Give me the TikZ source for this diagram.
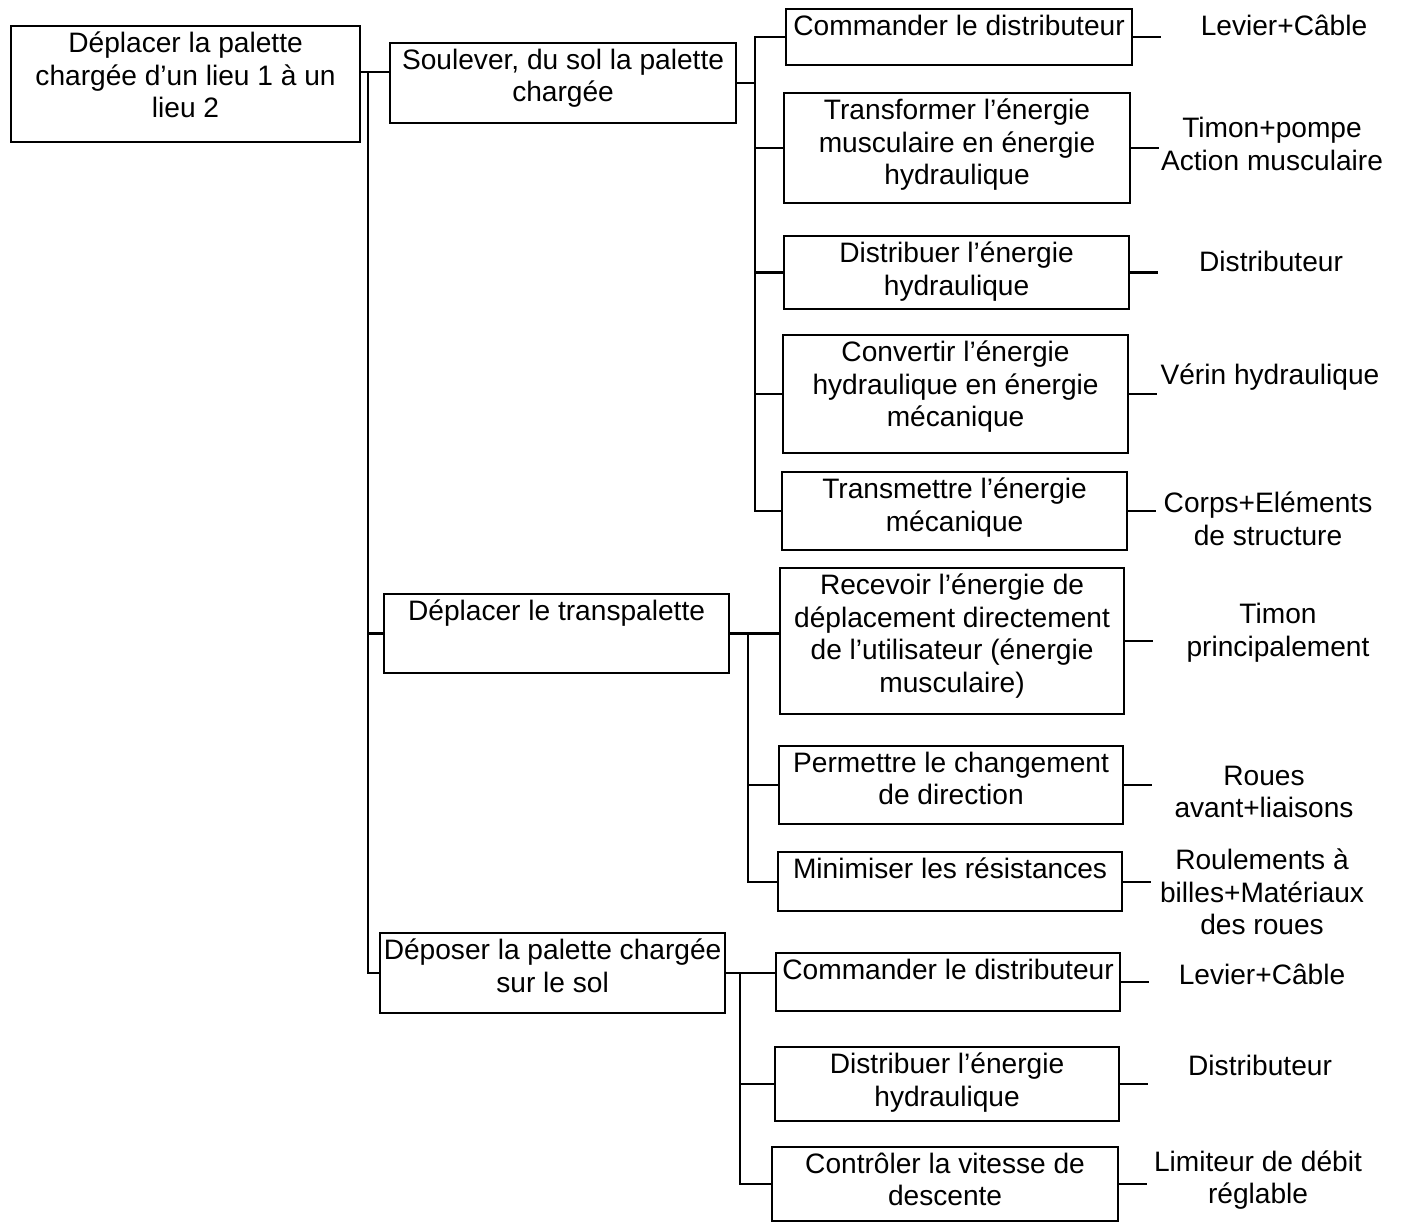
\documentclass[tikz,border=0pt]{standalone}
\usepackage{fontspec}
\setmainfont{Liberation Sans}
\tikzset{
  fastbox/.style={draw,line width=0.6pt,inner xsep=0pt,inner ysep=1.6pt,anchor=north west,font=\fontsize{8}{9.3}\selectfont},
  soltext/.style={align=center,inner sep=0pt,font=\fontsize{8}{9.3}\selectfont},
  link/.style={line width=0.6pt}
}
% box: name, north west corner, width, height, text (set from the top)
\newcommand*\fastfn[5]{\node [fastbox] (#1) at (#2) {\parbox[c][\dimexpr#4-3.2pt\relax][t]{#3}{\centering #5}};}
\newcommand*\fastsol[3]{\node [soltext] (#1) at (#2) {#3};}

\begin{document}
\begin{tikzpicture}
\useasboundingbox (0,0) rectangle (14.04,-12.22);

% main function and first level
\fastfn{root}{0.10,-0.25}{3.49cm}{1.16cm}{Déplacer la palette\\chargée d’un lieu 1 à un\\lieu 2}
\fastfn{s1}{3.89,-0.42}{3.46cm}{0.80cm}{Soulever, du sol la palette\\chargée}
\fastfn{s2}{3.83,-5.93}{3.45cm}{0.79cm}{Déplacer le transpalette}
\fastfn{s3}{3.79,-9.32}{3.45cm}{0.80cm}{Déposer la palette chargée\\sur le sol}

% soulever
\fastfn{c1}{7.85,-0.08}{3.46cm}{0.56cm}{Commander le distributeur}
\fastfn{c2}{7.83,-0.92}{3.46cm}{1.10cm}{Transformer l’énergie\\musculaire en énergie\\hydraulique}
\fastfn{c3}{7.83,-2.35}{3.45cm}{0.73cm}{Distribuer l’énergie\\hydraulique}
\fastfn{c4}{7.82,-3.34}{3.45cm}{1.18cm}{Convertir l’énergie\\hydraulique en énergie\\mécanique}
\fastfn{c5}{7.81,-4.71}{3.45cm}{0.78cm}{Transmettre l’énergie\\mécanique}

% deplacer
\fastfn{d1}{7.79,-5.67}{3.44cm}{1.46cm}{Recevoir l’énergie de\\déplacement directement\\de l’utilisateur (énergie\\musculaire)}
\fastfn{d2}{7.78,-7.45}{3.44cm}{0.78cm}{Permettre le changement\\de direction}
\fastfn{d3}{7.77,-8.51}{3.44cm}{0.59cm}{Minimiser les résistances}

% deposer
\fastfn{e1}{7.75,-9.52}{3.44cm}{0.58cm}{Commander le distributeur}
\fastfn{e2}{7.74,-10.46}{3.44cm}{0.74cm}{Distribuer l’énergie\\hydraulique}
\fastfn{e3}{7.71,-11.46}{3.46cm}{0.74cm}{Contrôler la vitesse de\\descente}

% solutions
\fastsol{l1}{12.84,-0.25}{Levier+Câble}
\fastsol{l2}{12.72,-1.44}{Timon+pompe\\Action musculaire}
\fastsol{l3}{12.71,-2.61}{Distributeur}
\fastsol{l4}{12.70,-3.77}{Vérin hydraulique}
\fastsol{l5}{12.68,-5.19}{Corps+Eléments\\de structure}
\fastsol{l6}{12.78,-6.33}{Timon\\principalement}
\fastsol{l7}{12.64,-7.92}{Roues\\avant+liaisons}
\fastsol{l8}{12.62,-8.92}{Roulements à\\billes+Matériaux\\des roues}
\fastsol{l9}{12.62,-9.74}{Levier+Câble}
\fastsol{l10}{12.60,-10.65}{Distributeur}
\fastsol{l11}{12.58,-11.80}{Limiteur de débit\\réglable}

% junctions
\coordinate (j0) at (3.68,-0.72);
\coordinate (j1) at (7.55,-0.88);
\coordinate (j2) at (7.48,-6.30);
\coordinate (j3) at (7.40,-9.73);

\draw[link] (root.east |- j0) -- (s1.west |- j0);
\draw[link] (j0) |- (s3.west);
\draw[link] (j0 |- s2.west) -- (s2.west);

\draw[link] (s1.east) -- (s1.east -| j1);
\draw[link] (c1.west) -| (j1) |- (c5.west);
\foreach \n in {c2,c3,c4} \draw[link] (\n.west -| j1) -- (\n.west);

\draw[link] (s2.east) -- (s2.east -| d1.west);
\draw[link] (s2.east -| j2) |- (d3.west);
\draw[link] (d2.west -| j2) -- (d2.west);

\draw[link] (s3.east) -- (s3.east -| e1.west);
\draw[link] (s3.east -| j3) |- (e3.west);
\draw[link] (e2.west -| j3) -- (e2.west);

\foreach \n in {c1,c2,c3,c4,c5,d1,d2,d3,e1,e2,e3} \draw[link] (\n.east) -- ++(0.28,0);

\end{tikzpicture}
\end{document}
